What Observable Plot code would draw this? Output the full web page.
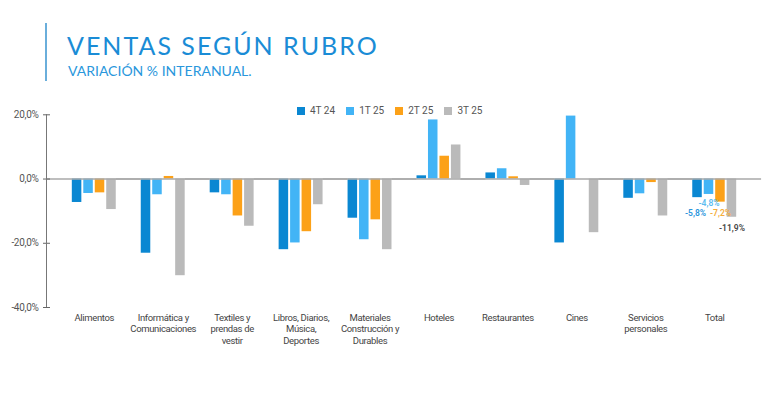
<!DOCTYPE html>
<html>
<head>
<meta charset="utf-8">
<script src="https://cdn.jsdelivr.net/npm/d3@7"></script>
<script src="https://cdn.jsdelivr.net/npm/@observablehq/plot@0.6"></script>
<style>
  html, body { margin: 0; padding: 0; background: #fff; }
  body { width: 768px; height: 399px; overflow: hidden; font-family: Roboto, "Noto Sans", sans-serif; position: relative; }
  #header { position: relative; height: 100px; }
  #vline { position: absolute; left: 45px; top: 23px; width: 2px; height: 58px; background: #6aaedb; }
  #title { position: absolute; left: 67px; top: 32.8px; font-family: Lato, sans-serif; font-size: 25px; line-height: 25px; color: #1a8cd6; letter-spacing: 2px; white-space: nowrap; }
  #subtitle { position: absolute; left: 68px; top: 63.6px; font-family: Lato, sans-serif; font-size: 14px; line-height: 14px; color: #2a97dc; white-space: nowrap; }
  #chart { position: relative; height: 299px; }
  #legend { position: absolute; left: 297px; top: 5px; display: flex; gap: 11px; font-family: Roboto, sans-serif; font-size: 10px; color: #555; line-height: 12px; z-index: 2; }
  #yline { position: absolute; left: 46px; top: 14.3px; width: 1px; height: 192.7px; background: #777; z-index: 2; }
  .item { display: flex; align-items: center; }
  .sw { width: 8px; height: 8px; margin-right: 5px; }
  g[aria-label="fx-axis tick label"] text { letter-spacing: -0.35px; }
  g[aria-label="y-axis tick label"] text { letter-spacing: -0.3px; }
</style>
</head>
<body>
<div id="header">
  <div id="vline"></div>
  <div id="title">VENTAS SEGÚN RUBRO</div>
  <div id="subtitle">VARIACIÓN % INTERANUAL.</div>
</div>
<div id="chart"><div id="legend"></div><div id="yline"></div></div>
<script>
const categories = ["Alimentos", "Informática y Comunicaciones", "Textiles y prendas de vestir", "Libros, Diarios, Música, Deportes", "Materiales Construcción y Durables", "Hoteles", "Restaurantes", "Cines", "Servicios personales", "Total"];
const tickLabels = ["Alimentos", "Informática y\nComunicaciones", "Textiles y\nprendas de\nvestir", "Libros, Diarios,\nMúsica,\nDeportes", "Materiales\nConstrucción y\nDurables", "Hoteles", "Restaurantes", "Cines", "Servicios\npersonales", "Total"];
const series = ["4T 24", "1T 25", "2T 25", "3T 25"];
const colors = ["#0a87d2", "#42b4f6", "#fca118", "#bababa"];
const labelColors = ["#2a95dc", "#5bbcf0", "#f5ad3a", "#444444"];

const v4T24 = [-7.3, -23.1, -4.3, -22.0, -12.2, 1.0, 1.9, -19.9, -6.0, -5.8];
const v1T25 = [-4.5, -4.9, -4.9, -19.9, -18.9, 18.4, 3.2, 19.6, -4.6, -4.8];
const v2T25 = [-4.3, 0.8, -11.5, -16.4, -12.7, 7.1, 0.7, 0.0, -1.1, -7.2];
const v3T25 = [-9.5, -30.1, -14.7, -8.0, -22.0, 10.6, -2.0, -16.7, -11.5, -11.9];

const yTicks = [20, 0, -20, -40];
const totalLabels = ["-5,8%", "-4,8%", "-7,2%", "-11,9%"];

const valuesBySeries = [v4T24, v1T25, v2T25, v3T25];
const data = categories.flatMap((c, i) => series.map((s, j) => ({category: c, series: s, value: valuesBySeries[j][i]})));
const totalData = series.map((s, j) => ({category: "Total", series: s, value: valuesBySeries[j][categories.length - 1], label: totalLabels[j], color: labelColors[j]}));

const fmt = d => d.toFixed(1).replace(".", ",") + "%";
const font = "Roboto, sans-serif";

// legend
const legend = document.getElementById("legend");
series.forEach((s, j) => {
  const it = document.createElement("div");
  it.className = "item";
  it.innerHTML = `<span class="sw" style="background:${colors[j]}"></span><span>${s}</span>`;
  legend.appendChild(it);
});

const labelOpts = {fx: "category", x: "series", y: "value", text: "label", fill: "color", fontSize: 8.5, fontWeight: 600, fontFamily: font};

const chart = Plot.plot({
  width: 768,
  height: 299,
  marginLeft: 47,
  marginRight: 7,
  marginTop: 14.3,
  marginBottom: 92,
  style: {fontFamily: font, background: "transparent", overflow: "visible"},
  fx: {domain: categories, paddingInner: 0, paddingOuter: 0.1786, round: false, label: null, axis: null},
  x: {domain: series, paddingInner: 0.17, paddingOuter: 1.09, round: false, axis: null},
  y: {domain: [-40, 20], axis: null},
  color: {domain: series, range: colors},
  marks: [
    Plot.barY(data, {fx: "category", x: "series", y: "value", fill: "series"}),
    Plot.ruleY([0], {stroke: "#a8a8a8", strokeWidth: 1.5, insetLeft: -12.4, insetRight: -12.4}),
    Plot.axisY({ticks: yTicks, tickFormat: fmt, tickSize: 7, dx: -9.3, tickPadding: 5, fontSize: 10, fill: "#555", stroke: "#666", label: null, fontFamily: font}),
    Plot.axisFx({anchor: "bottom", tickSize: 0, tickPadding: 5, tickFormat: d => tickLabels[categories.indexOf(d)], lineHeight: 1.22, fontSize: 9.5, fill: "#444", label: null, fontFamily: font}),
    Plot.text(totalData.filter(d => d.series === series[0]), {...labelOpts, dy: 16, dx: -2}),
    Plot.text(totalData.filter(d => d.series === series[1]), {...labelOpts, dy: 8.5}),
    Plot.text(totalData.filter(d => d.series === series[2] || d.series === series[3]), {...labelOpts, dy: 11.5})
  ]
});
document.getElementById("chart").appendChild(chart);
</script>
</body>
</html>
